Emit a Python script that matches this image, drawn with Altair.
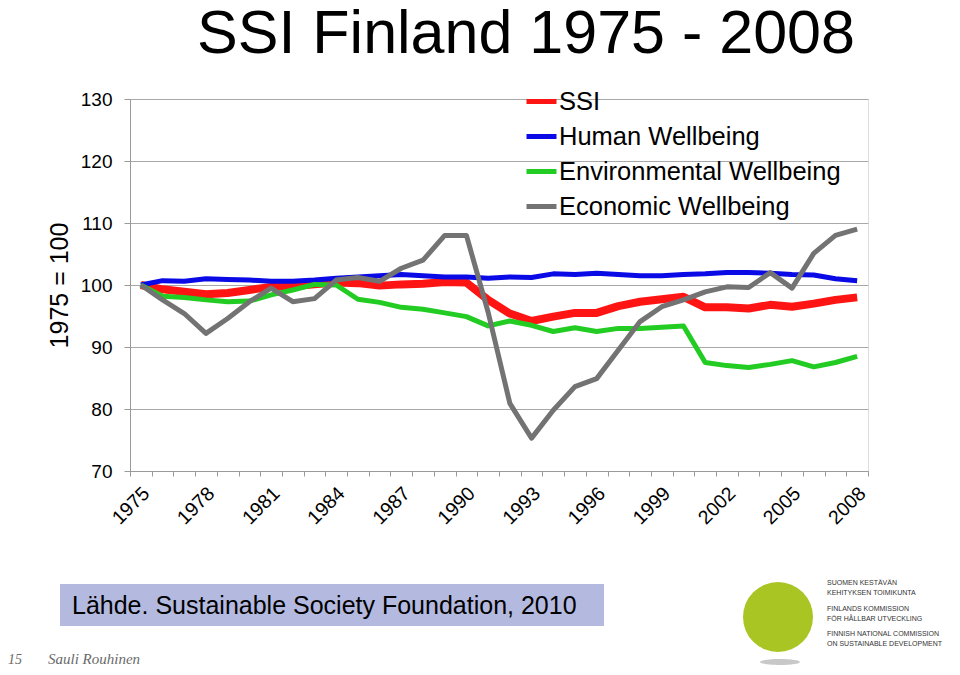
import altair as alt
import pandas as pd

# ---------------- data ----------------
years = [1975, 1976, 1977, 1978, 1979, 1980, 1981, 1982, 1983, 1984, 1985, 1986,
         1987, 1988, 1989, 1990, 1991, 1992, 1993, 1994, 1995, 1996, 1997, 1998,
         1999, 2000, 2001, 2002, 2003, 2004, 2005, 2006, 2007, 2008]

ssi = [100.0, 99.3, 98.9, 98.5, 98.7, 99.2, 99.7, 99.8, 100.1, 100.4, 100.3, 99.9,
       100.1, 100.2, 100.5, 100.4, 97.6, 95.4, 94.2, 94.9, 95.5, 95.5, 96.6, 97.3,
       97.7, 98.1, 96.4, 96.4, 96.2, 96.8, 96.5, 97.0, 97.6, 98.0]

human = [100.0, 100.7, 100.6, 101.0, 100.9, 100.8, 100.6, 100.6, 100.8, 101.1, 101.3, 101.5,
         101.7, 101.5, 101.3, 101.3, 101.1, 101.3, 101.2, 101.8, 101.7, 101.9, 101.7, 101.5,
         101.5, 101.7, 101.8, 102.0, 102.0, 101.9, 101.7, 101.6, 101.0, 100.7]

environmental = [100.0, 98.2, 98.0, 97.6, 97.3, 97.4, 98.4, 99.2, 100.1, 100.0, 97.7, 97.2,
                 96.4, 96.1, 95.5, 94.9, 93.4, 94.2, 93.5, 92.5, 93.1, 92.5, 93.0, 93.0,
                 93.2, 93.4, 87.5, 87.0, 86.7, 87.2, 87.8, 86.8, 87.5, 88.5]

economic = [100.0, 97.6, 95.4, 92.2, 94.6, 97.3, 99.5, 97.3, 97.8, 100.8, 101.2, 100.6,
            102.7, 104.0, 108.0, 108.0, 95.6, 80.9, 75.3, 79.8, 83.6, 84.9, 89.5, 94.1,
            96.5, 97.6, 98.9, 99.7, 99.6, 102.0, 99.5, 105.1, 108.0, 109.0]

series_names = ["SSI", "Human Wellbeing", "Environmental Wellbeing", "Economic Wellbeing"]
series_colors = ["#ff1414", "#0a0ae6", "#22cc22", "#737373"]
series_widths = [8, 5, 5, 5]

y_ticks = [70, 80, 90, 100, 110, 120, 130]

title_text = "SSI Finland 1975 - 2008"
y_title = "1975 = 100"
source_label = "Lähde. Sustainable Society Foundation, 2010"
page_number = "15"
author = "Sauli Rouhinen"
logo_lines = [
    "SUOMEN KESTÄVÄN\nKEHITYKSEN TOIMIKUNTA",
    "FINLANDS KOMMISSION\nFÖR HÅLLBAR UTVECKLING",
    "FINNISH NATIONAL COMMISSION\nON SUSTAINABLE DEVELOPMENT",
]

rows = []
for name, vals in zip(series_names, [ssi, human, environmental, economic]):
    for yr, v in zip(years, vals):
        rows.append({"year": yr, "value": v, "series": name})
df = pd.DataFrame(rows)

FONT = "Liberation Sans"
W, H = 738, 372

x_enc = alt.X(
    "year:O",
    scale=alt.Scale(type="band", paddingInner=0, paddingOuter=0),
    axis=alt.Axis(
        title=None,
        labelAngle=-45,
        labelAlign="right",
        labelBaseline="middle",
        labelFontSize=19.5,
        labelFont=FONT,
        labelColor="black",
        labelExpr="(datum.value - 1975) % 3 == 0 ? datum.label : ''",
        labelOverlap=False,
        labelPadding=14,
        labelOffset=5,
        tickBand="extent",
        tickSize=5,
        tickColor="#9a9a9a",
        domainColor="#9a9a9a",
        grid=False,
    ),
)
y_enc = alt.Y(
    "value:Q",
    scale=alt.Scale(domain=[70, 130], nice=False, zero=False),
    axis=alt.Axis(
        values=y_ticks,
        title=y_title,
        titleFont=FONT,
        titleFontSize=25,
        titleFontWeight="normal",
        titleColor="black",
        titlePadding=8,
        labelFont=FONT,
        labelFontSize=19,
        labelColor="black",
        labelPadding=12,
        tickSize=6,
        tickColor="#9a9a9a",
        domainColor="#9a9a9a",
        grid=True,
        gridColor="#a8a8a8",
    ),
)
color_enc = alt.Color(
    "series:N",
    sort=series_names,
    scale=alt.Scale(domain=series_names, range=series_colors),
    legend=alt.Legend(
        title=None,
        orient="none",
        legendX=394,
        legendY=-15,
        symbolType="stroke",
        symbolStrokeWidth=5,
        symbolSize=900,
        labelFont=FONT,
        labelFontSize=25.5,
        labelColor="black",
        labelOffset=0,
        labelLimit=500,
        rowPadding=4,
        padding=0,
    ),
)

line_layers = []
for name, sw in zip(series_names, series_widths):
    line_layers.append(
        alt.Chart(df)
        .transform_filter(alt.datum.series == name)
        .mark_line(strokeJoin="round", strokeCap="butt", strokeWidth=sw)
        .encode(x=x_enc, y=y_enc, color=color_enc)
    )

one = pd.DataFrame({"k": [0]})

title_mark = alt.Chart(pd.DataFrame({"t": [title_text]})).mark_text(
    align="center", baseline="alphabetic", fontSize=61, font=FONT, color="black"
).encode(text="t:N", x=alt.value(396), y=alt.value(-46))

source_box = alt.Chart(one).mark_rect(color="#b4badf").encode(
    x=alt.value(-70), x2=alt.value(474), y=alt.value(485), y2=alt.value(527)
)
source_text = alt.Chart(pd.DataFrame({"t": [source_label]})).mark_text(
    align="left", baseline="middle", fontSize=25, font=FONT, color="black"
).encode(text="t:N", x=alt.value(-58), y=alt.value(507))

page_text = alt.Chart(pd.DataFrame({"t": [page_number]})).mark_text(
    align="left", baseline="alphabetic", fontSize=14, font="Liberation Serif",
    fontStyle="italic", color="#6a6a6a"
).encode(text="t:N", x=alt.value(-122), y=alt.value(565))
author_text = alt.Chart(pd.DataFrame({"t": [author]})).mark_text(
    align="left", baseline="alphabetic", fontSize=15, font="Liberation Serif",
    fontStyle="italic", color="#6a6a6a"
).encode(text="t:N", x=alt.value(-82), y=alt.value(565))

logo_circle = alt.Chart(one).mark_point(
    shape="circle", filled=True, color="#a9c523", opacity=1, size=4900
).encode(x=alt.value(648), y=alt.value(518))
logo_shadow = alt.Chart(one).mark_point(
    shape="M-1,0 A1,0.15 0 1,0 1,0 A1,0.15 0 1,0 -1,0 Z",
    filled=True, color="#c8c8c8", opacity=1, size=1600
).encode(x=alt.value(650), y=alt.value(563))

logo_texts = []
for txt, yy in zip(logo_lines, [486, 512, 537]):
    logo_texts.append(
        alt.Chart(pd.DataFrame({"t": [txt]})).mark_text(
            align="left", baseline="alphabetic", fontSize=7, lineHeight=9.5,
            font=FONT, color="#333333", lineBreak="\n"
        ).encode(text="t:N", x=alt.value(697), y=alt.value(yy))
    )

chart = alt.layer(
    *line_layers, title_mark, source_box, source_text, page_text, author_text,
    logo_shadow, logo_circle, *logo_texts
).properties(
    width=W,
    height=H,
    padding={"left": 122, "top": 91, "right": 84, "bottom": 196},
    autosize=alt.AutoSizeParams(type="none"),
).configure_view(stroke=None).configure(background="white")

chart.save("out.html", embed_options={"renderer": "svg", "actions": False})
